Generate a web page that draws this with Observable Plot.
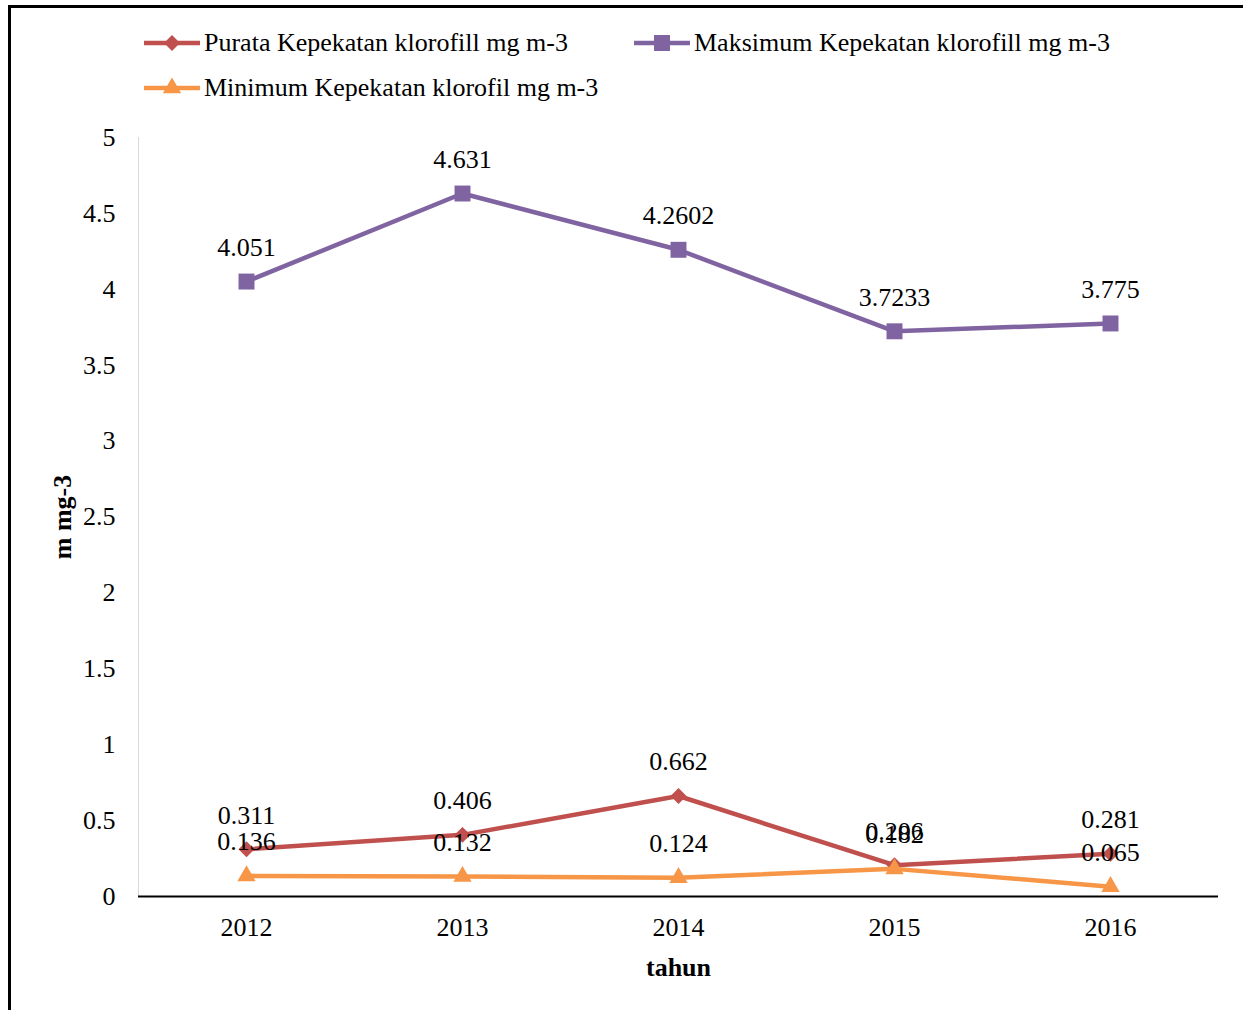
<!DOCTYPE html>
<html>
<head>
<meta charset="utf-8">
<script src="https://cdn.jsdelivr.net/npm/d3@7"></script>
<script src="https://cdn.jsdelivr.net/npm/@observablehq/plot@0.6"></script>
<style>
  html, body { margin: 0; padding: 0; background: #fff; }
  body { width: 1243px; height: 1010px; position: relative; overflow: hidden; font-family: "Liberation Serif", "Times New Roman", serif; }
  #frame { position: absolute; left: 8px; top: 5px; width: 1240px; height: 1010px; border-left: 3px solid #000; border-top: 3px solid #000; }
  .leg { position: absolute; display: flex; align-items: center; font-size: 26px; color: #000; white-space: nowrap; line-height: 1; }
  .leg svg { margin-right: 3px; }
  #chart { position: absolute; left: 0; top: 110px; }
</style>
</head>
<body>
<div id="frame"></div>
<div id="legend"></div>
<div id="chart"></div>
<script>
const years = ["2012", "2013", "2014", "2015", "2016"];
const purata = [0.311, 0.406, 0.662, 0.206, 0.281];
const maksimum = [4.051, 4.631, 4.2602, 3.7233, 3.775];
const minimum = [0.136, 0.132, 0.124, 0.182, 0.065];
const seriesNames = [
  "Purata Kepekatan klorofill mg m-3",
  "Maksimum Kepekatan klorofill mg m-3",
  "Minimum Kepekatan klorofil mg m-3"
];
const seriesColors = ["#C0504D", "#8064A2", "#F79646"];
const seriesSymbols = ["diamond2", "square", "triangle"];
const symbolR = [7.2, 9, 6.8];
const yTicks = [0, 0.5, 1, 1.5, 2, 2.5, 3, 3.5, 4, 4.5, 5];
const yTitle = "m mg-3";
const xTitle = "tahun";

const seriesValues = [purata, maksimum, minimum];
const rows = seriesValues.map((vals, s) =>
  years.map((yr, i) => ({ year: yr, value: vals[i], series: seriesNames[s], label: String(vals[i]) }))
);

const marks = [
  Plot.frame({ anchor: "left", stroke: "#d9d9d9", strokeWidth: 1 }),
  Plot.axisY({ ticks: yTicks, tickSize: 0, tickPadding: 23, tickFormat: d => String(d), label: null, fill: "#000" }),
  Plot.axisX({ tickSize: 0, tickPadding: 21, label: null, fill: "#000" }),
  Plot.ruleY([0], { stroke: "#000", strokeWidth: 2 })
];
rows.forEach((data, s) => {
  marks.push(Plot.line(data, { x: "year", y: "value", stroke: seriesColors[s], strokeWidth: 4.5 }));
  marks.push(Plot.dot(data, { x: "year", y: "value", symbol: seriesSymbols[s], r: symbolR[s], fill: seriesColors[s], stroke: "none" }));
});
rows.forEach((data) => {
  marks.push(Plot.text(data, { x: "year", y: "value", text: "label", dy: -34, fill: "#000", fontSize: 26 }));
});
marks.push(Plot.text([xTitle], { frameAnchor: "bottom", text: d => d, dy: 71, lineAnchor: "middle", fontWeight: "bold", fontSize: 26, fill: "#000" }));
marks.push(Plot.text([yTitle], { frameAnchor: "left", text: d => d, dx: -76, rotate: -90, lineAnchor: "middle", textAnchor: "middle", fontWeight: "bold", fontSize: 26, fill: "#000" }));

const chart = Plot.plot({
  width: 1243,
  height: 900,
  marginTop: 27,
  marginBottom: 114,
  marginLeft: 138,
  marginRight: 25,
  style: { fontFamily: "'Liberation Serif', 'Times New Roman', serif", fontSize: "26px", background: "transparent", color: "#000" },
  x: { type: "point", domain: years, padding: 0.5, axis: null },
  y: { domain: [0, 5], axis: null },
  marks
});
document.getElementById("chart").appendChild(chart);

// Legend
const legendPos = [
  { left: 143, top: 43 },
  { left: 633, top: 43 },
  { left: 143, top: 88 }
];
const legend = document.getElementById("legend");
const symMap = { diamond2: d3.symbolDiamond2, square: d3.symbolSquare, triangle: d3.symbolTriangle };
seriesNames.forEach((name, s) => {
  const item = document.createElement("div");
  item.className = "leg";
  item.style.left = legendPos[s].left + "px";
  item.style.top = (legendPos[s].top - 13) + "px";
  item.style.height = "26px";
  const sw = d3.create("svg").attr("width", 58).attr("height", 20);
  sw.append("line").attr("x1", 1).attr("x2", 57).attr("y1", 10).attr("y2", 10)
    .attr("stroke", seriesColors[s]).attr("stroke-width", 4.5);
  sw.append("path").attr("transform", "translate(29,10)")
    .attr("d", d3.symbol(symMap[seriesSymbols[s]], Math.PI * symbolR[s] * symbolR[s])())
    .attr("fill", seriesColors[s]);
  item.appendChild(sw.node());
  const t = document.createElement("span");
  t.textContent = name;
  item.appendChild(t);
  legend.appendChild(item);
});
</script>
</body>
</html>
